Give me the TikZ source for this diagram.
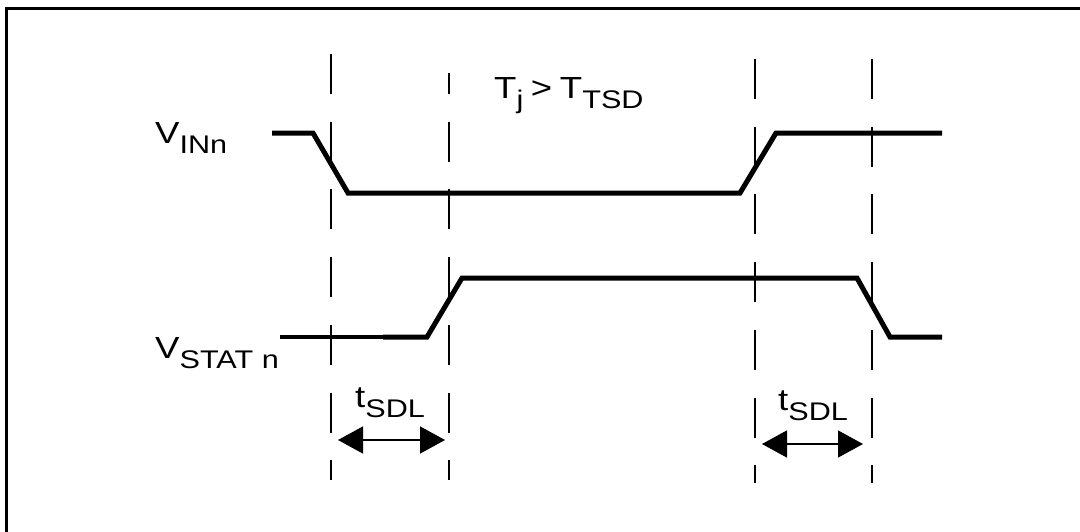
\documentclass[tikz,border=0pt]{standalone}
\usepackage{fontspec}
\setmainfont{Liberation Sans}
\newfontfamily\lblfont[FakeStretch=1.2]{Liberation Sans}
\usetikzlibrary{arrows.meta}
\newcommand\sublbl[2]{#1\raisebox{-10pt}{\fontsize{25.5}{30}\selectfont #2}}
\begin{document}
\begin{tikzpicture}[x=1pt,y=-1pt,
  sig/.style={line width=5pt, line join=miter},
  thinsig/.style={line width=3.3pt},
  guide/.style={line width=1.5pt, dash pattern=on 40pt off 27.7pt},
  frame/.style={line width=3pt},
  dim/.style={line width=1.5pt, {Triangle[length=25pt,width=27pt]}-{Triangle[length=25pt,width=27pt]}},
  lbl/.style={anchor=base west, inner sep=0pt, font=\lblfont\fontsize{30.5}{36}\selectfont}]
\useasboundingbox (0,0) rectangle (1080,531);
% frame
\coordinate (fb) at (6,545);
\coordinate (ftl) at (6,8);
\coordinate (ftr) at (1095,8);
\draw[frame] (fb) -- (ftl) -- (ftr);
% guide lines
\foreach \n/\x/\a/\b/\ph in {g1/331/54/480/0, g2/449/73/480/19, g3/755/59/483/0, g4/872/59/483/0}{
  \coordinate (\n t) at (\x,\a);
  \coordinate (\n b) at (\x,\b);
  \draw[guide, dash phase=\ph pt] (\n t) -- (\n b);
}
% V_INn signal
\coordinate (a0) at (272,133);
\coordinate (a1) at (313,133);
\coordinate (a2) at (348,193);
\coordinate (a3) at (740,193);
\coordinate (a4) at (776,133);
\coordinate (a5) at (942,133);
\draw[sig] (a0) -- (a1) -- (a2) -- (a3) -- (a4) -- (a5);
% V_STAT signal
\coordinate (s0) at (280,337);
\coordinate (s1) at (383,337);
\coordinate (s2) at (427,337);
\coordinate (s3) at (462,278);
\coordinate (s4) at (857,278);
\coordinate (s5) at (890,337);
\coordinate (s6) at (942,337);
\draw[thinsig] (s0) -- (s1);
\draw[sig] (s1) -- (s2) -- (s3) -- (s4) -- (s5) -- (s6);
% labels
\node[lbl] (vin) at (155,143) {\sublbl{V}{INn}};
\node[lbl] (vstat) at (155,358) {\sublbl{V}{STAT n}};
\node[lbl] (tj) at (494,98) {\sublbl{T}{j}\hspace{0.25em}>\hspace{0.25em}\sublbl{T}{TSD}};
\node[lbl] (t1) at (355,407) {\sublbl{t}{SDL}};
\node[lbl] (t2) at (778,410) {\sublbl{t}{SDL}};
% dimension arrows
\coordinate (d1l) at (338,440);
\coordinate (d1r) at (445,440);
\coordinate (d2l) at (762,444);
\coordinate (d2r) at (863,444);
\draw[dim] (d1l) -- (d1r);
\draw[dim] (d2l) -- (d2r);
\end{tikzpicture}
\end{document}
